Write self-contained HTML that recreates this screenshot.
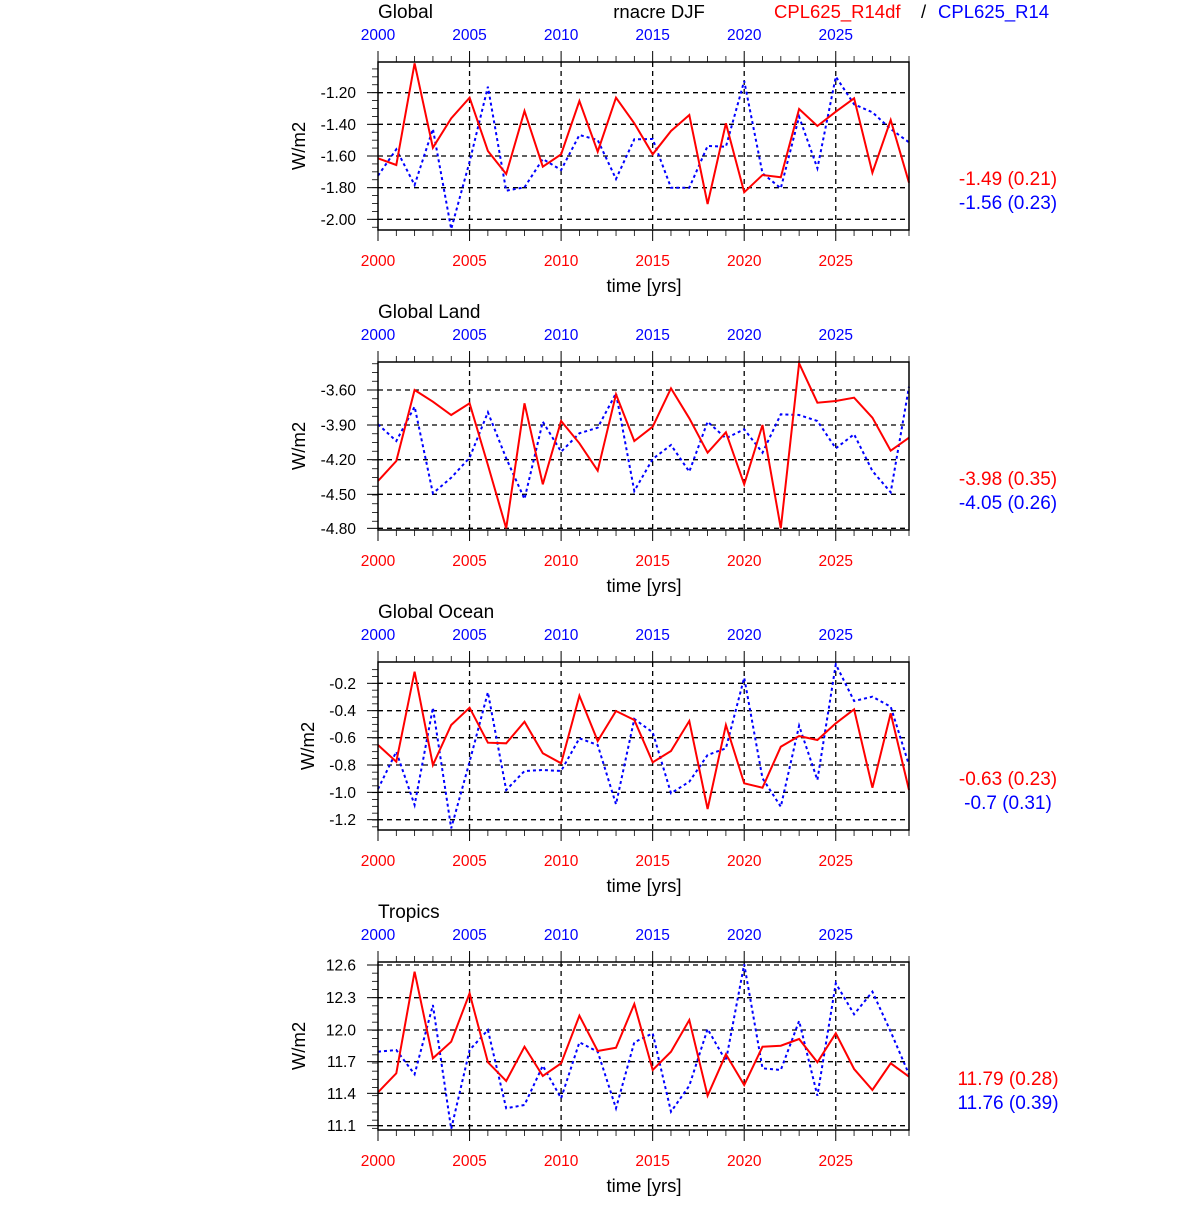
<!DOCTYPE html>
<html><head><meta charset="utf-8"><style>
html,body{margin:0;padding:0;background:#fff;}
svg text{font-family:"Liberation Sans",Arial,sans-serif;}
</style></head><body>
<svg id="s" xmlns="http://www.w3.org/2000/svg" width="1200" height="1200" viewBox="0 0 1200 1200">
<rect width="1200" height="1200" fill="#fff"/>
<text x="378" y="18" font-size="19">Global</text>
<text x="659" y="18" font-size="18.5" text-anchor="middle">rnacre DJF</text>
<text x="774" y="18" font-size="18.5" fill="#f00">CPL625_R14df</text>
<text x="921" y="18" font-size="18.5">/</text>
<text x="938" y="18" font-size="18.5" fill="#00f">CPL625_R14</text>
</svg>
<script>
const S=document.getElementById('s');const NS='http://www.w3.org/2000/svg';
function el(t,a,txt){const e=document.createElementNS(NS,t);for(const k in a)e.setAttribute(k,a[k]);if(txt!==undefined)e.textContent=txt;S.appendChild(e);return e;}
const X0=378,X1=909,DX=(X1-X0)/29;
const panels=[
{title:null,grid:[113,208,303,398,493],lab:["-1.20","-1.40","-1.60","-1.80","-2.00"],wx:299,
 r:[310,330,25,278,190,128,288,357,168,335,298,138,290,128,205,298,228,180,447,205,412,360,367,162,213,170,130,353,195,383],
 b:[362,283,390,222,522,320,95,407,397,312,345,240,255,372,253,252,398,398,273,275,78,355,400,185,340,65,148,172,222,262],
 s1:"-1.49 (0.21)",s2:"-1.56 (0.23)"},
{title:"Global Land",grid:[105,210,314,418,520],lab:["-3.60","-3.90","-4.20","-4.50","-4.80"],wx:299,
 r:[378,318,105,140,180,145,330,520,145,388,198,265,347,118,258,215,100,190,293,232,388,210,520,25,143,138,128,188,287,248],
 b:[208,258,155,415,368,308,172,310,432,200,290,235,218,115,408,312,270,350,200,250,223,293,178,180,198,280,238,348,412,95],
 s1:"-3.98 (0.35)",s2:"-4.05 (0.26)"},
{title:"Global Ocean",grid:[85,167,248,330,412,494],lab:["-0.2","-0.4","-0.6","-0.8","-1.0","-1.2"],wx:308,
 r:[270,320,50,330,210,158,263,265,200,295,325,122,258,168,195,322,288,198,462,210,385,398,275,243,255,205,163,398,175,405],
 b:[402,290,450,158,520,320,112,405,348,345,348,250,270,448,192,232,415,380,300,280,68,370,455,212,375,28,138,125,155,330],
 s1:"-0.63 (0.23)",s2:"-0.7 (0.31)"},
{title:"Tropics",grid:[30,128,225,320,415,512],lab:["12.6","12.3","12.0","11.7","11.4","11.1"],wx:299,
 r:[412,355,50,310,260,115,322,378,275,363,325,182,288,278,147,345,290,195,422,298,390,275,272,252,322,235,342,405,325,365],
 b:[290,285,358,150,522,285,225,460,450,332,430,262,290,460,262,235,470,392,222,318,28,340,345,198,422,85,178,110,230,358],
 s1:"11.79 (0.28)",s2:"11.76 (0.39)"}];
panels.forEach((p,k)=>{
 const o=300*k, Y0=o+62, Y1=o+230; const zy=z=>o+55+z/3;
 if(p.title) el('text',{x:378,y:o+18,'font-size':19},p.title);
 p.grid.forEach((g,i)=>{const y=zy(g);el('line',{x1:X0,x2:X1,y1:y,y2:y,stroke:'#000','stroke-width':1.3,'stroke-dasharray':'5,4'});
  el('line',{x1:X0-11,x2:X0,y1:y,y2:y,stroke:'#000','stroke-width':1});
  el('text',{x:X0-22,y:y+5.5,'font-size':15.5,'text-anchor':'end'},p.lab[i]);});
 const st=(zy(p.grid[1])-zy(p.grid[0]))/4;
 for(let y=zy(p.grid[0])-8*st;y<Y1+1;y+=st){if(y>Y0+1&&y<Y1-1)el('line',{x1:X0-6,x2:X0,y1:y,y2:y,stroke:'#000','stroke-width':0.8});}
 for(let i=0;i<30;i++){const x=X0+i*DX;const maj=i%5==0;
  el('line',{x1:x,x2:x,y1:Y0-(maj?11:6),y2:Y0,stroke:'#000','stroke-width':maj?1:0.8});
  el('line',{x1:x,x2:x,y1:Y1,y2:Y1+(maj?11:6),stroke:'#000','stroke-width':maj?1:0.8});
  if(maj){const yr=2000+i;
   if(i>0)el('line',{x1:x,x2:x,y1:Y0,y2:Y1,stroke:'#000','stroke-width':1.3,'stroke-dasharray':'5,4'});
   el('text',{x:x,y:Y0-22,'font-size':15.5,'text-anchor':'middle',fill:'#00f'},yr);
   el('text',{x:x,y:Y1+36,'font-size':15.5,'text-anchor':'middle',fill:'#f00'},yr);}}
 el('polyline',{points:p.b.map((z,i)=>(X0+i*DX).toFixed(1)+','+zy(z).toFixed(1)).join(' '),fill:'none',stroke:'#00f','stroke-width':2,'stroke-dasharray':'3,3'});
 el('polyline',{points:p.r.map((z,i)=>(X0+i*DX).toFixed(1)+','+zy(z).toFixed(1)).join(' '),fill:'none',stroke:'#f00','stroke-width':2});
 el('rect',{x:X0,y:Y0,width:X1-X0,height:Y1-Y0,fill:'none',stroke:'#000','stroke-width':1.5});
 el('text',{x:644,y:o+292,'font-size':18.5,'text-anchor':'middle'},'time [yrs]');
 el('text',{x:0,y:0,'font-size':18.5,'text-anchor':'middle',transform:`translate(${p.wx+6},${o+146}) rotate(-90)`},'W/m2');
 el('text',{x:1008,y:o+185,'font-size':19,'text-anchor':'middle',fill:'#f00'},p.s1);
 el('text',{x:1008,y:o+209,'font-size':19,'text-anchor':'middle',fill:'#00f'},p.s2);
});
</script>
</body></html>
